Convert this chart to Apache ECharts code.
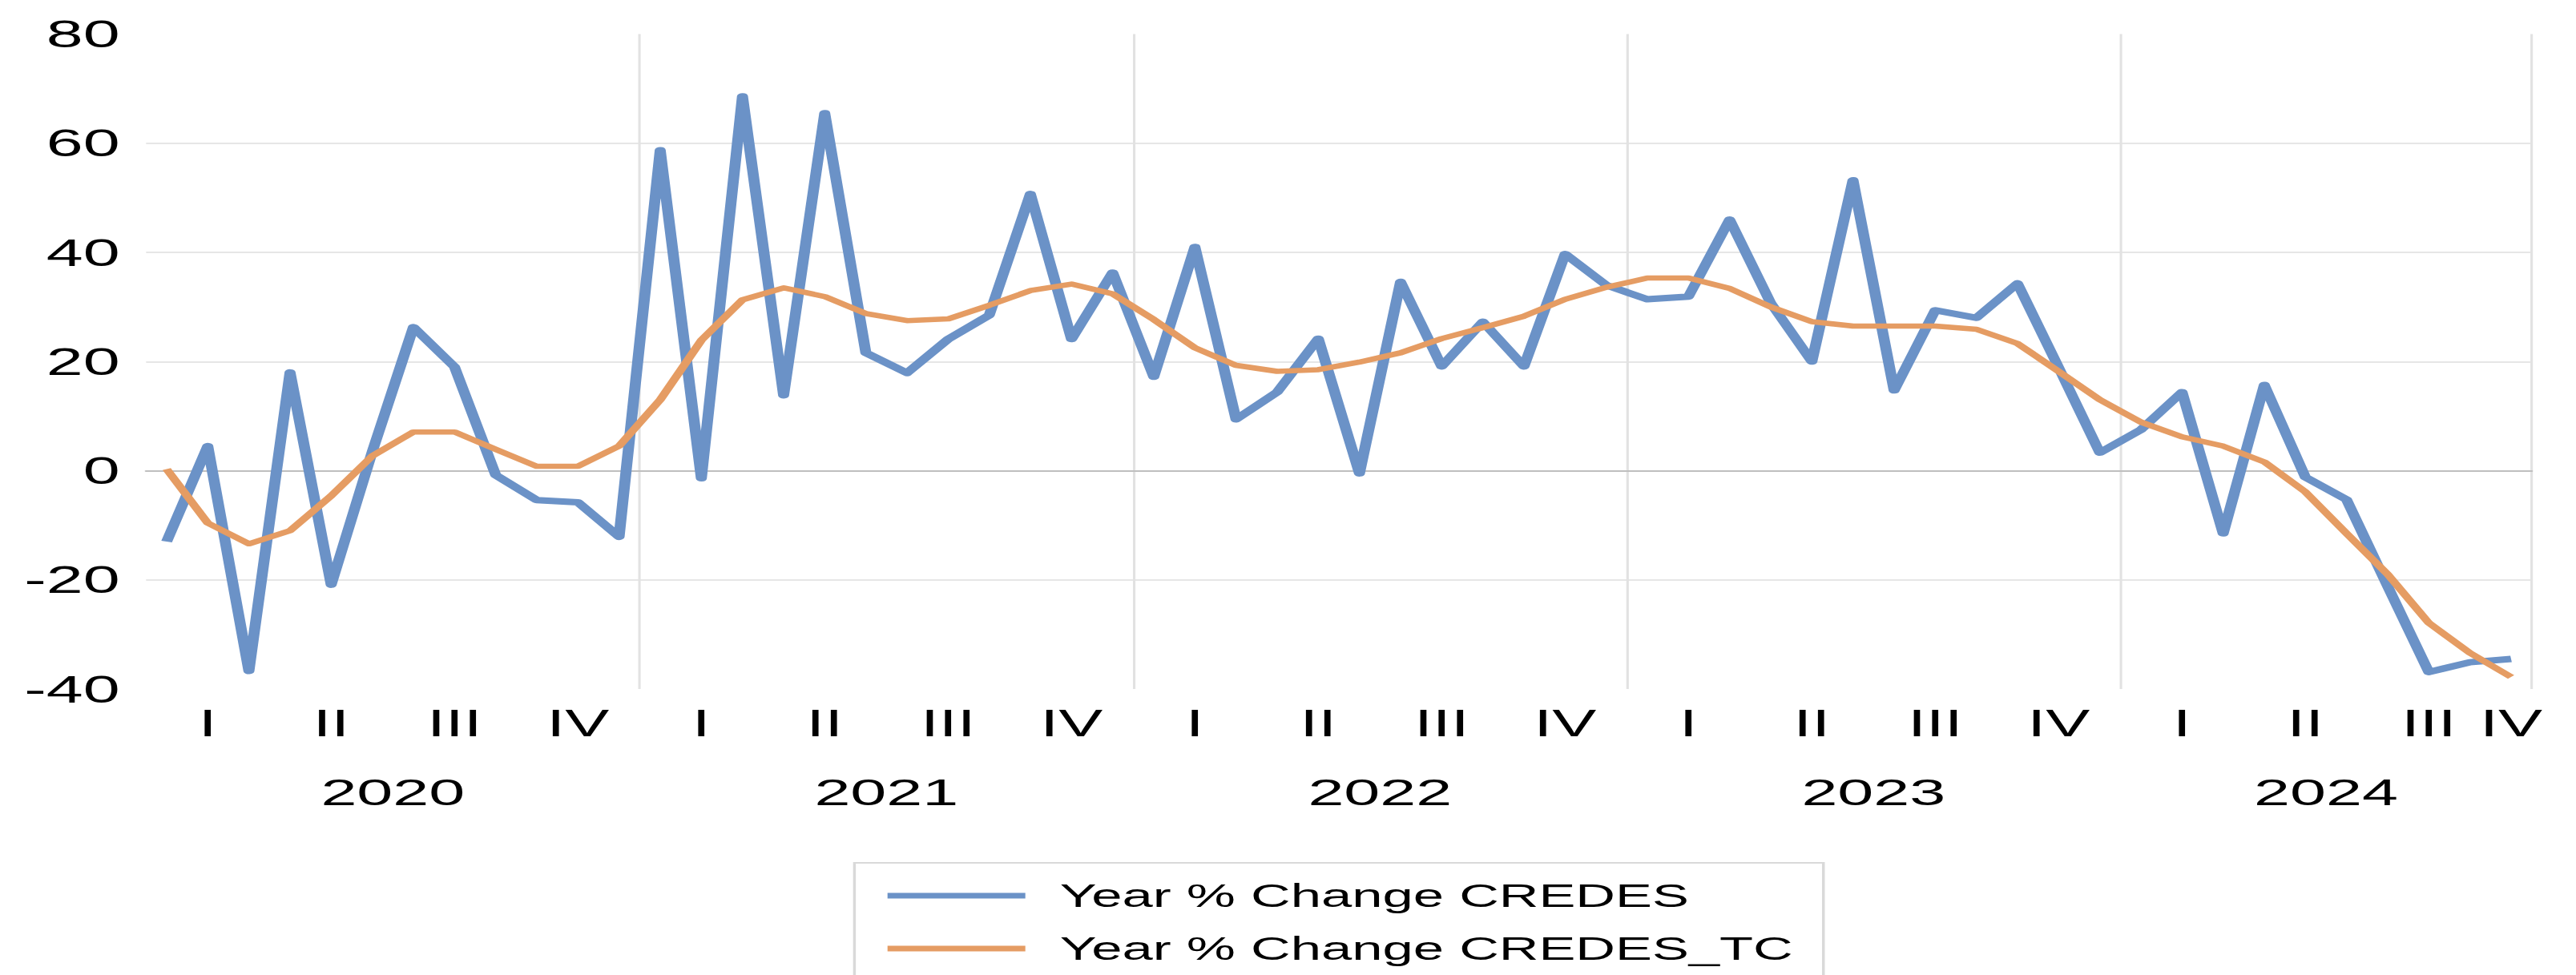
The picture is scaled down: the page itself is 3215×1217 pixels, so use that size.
<!DOCTYPE html>
<html>
<head>
<meta charset="utf-8">
<script src="https://cdn.jsdelivr.net/npm/echarts@6/dist/echarts.min.js"></script>
<style>
  html, body { margin: 0; padding: 0; background: #fff; overflow: hidden; }
  /* the original picture is stretched sideways, so draw narrow and widen it */
  #chart { width: 1869px; height: 1217px; transform: scaleX(1.72); transform-origin: 0 0; }
</style>
</head>
<body>
<div id="chart"></div>
<script>
const years = ['2020', '2021', '2022', '2023', '2024'];
const monthsPerYear = [12, 12, 12, 12, 10];
const quarterNames = ['I', 'II', 'III', 'IV'];

const credes = [
  -13.0, 4.5, -36.7, 18.0, -20.9, 3.5, 26.3, 19.0, -0.8, -5.4, -5.8, -12.1,
  58.7, -1.4, 68.6, 13.8, 65.5, 21.6, 17.9, 24.1, 28.5, 50.7, 24.1, 36.3,
  17.2, 41.0, 9.4, 14.4, 24.2, -0.5, 34.6, 19.1, 27.3, 19.1, 39.7, 34.0,
  31.4, 31.9, 46.0, 30.7, 20.0, 53.2, 14.7, 29.4, 28.0, 34.3, 18.9, 3.3,
  7.5, 14.4, -11.5, 15.7, -1.2, -5.3, -21.2, -36.9, -35.1, -34.5
];
const credesTC = [
  0.3, -9.6, -13.4, -11.0, -4.6, 2.7, 7.1, 7.1, 3.9, 0.8, 0.8, 4.5,
  13.0, 23.9, 31.3, 33.5, 31.9, 28.8, 27.5, 27.8, 30.3, 33.0, 34.2, 32.4,
  27.7, 22.5, 19.3, 18.2, 18.5, 19.9, 21.6, 24.2, 26.2, 28.3, 31.4, 33.6,
  35.3, 35.3, 33.4, 30.0, 27.3, 26.5, 26.5, 26.5, 25.9, 23.3, 18.2, 13.0,
  8.9, 6.2, 4.5, 1.6, -3.9, -11.5, -19.0, -27.9, -33.4, -37.8
];

// one category per month, plus quarter label per category and year centres
const months = [];
const quarterLabel = [];
const yearCentre = {};
const yearStarts = [];
let start = 0;
years.forEach((y, yi) => {
  const n = monthsPerYear[yi];
  yearStarts.push(start);
  yearCentre[start + n / 2] = y;
  for (let m = 0; m < n; m++) {
    const q = Math.floor(m / 3);
    const len = Math.min(3, n - q * 3);
    months.push(y + '-' + (m + 1));
    quarterLabel.push(m === q * 3 + Math.floor((len - 1) / 2) ? quarterNames[q] : '');
  }
  start += n;
});

const font = 'Liberation Sans, Arial, sans-serif';
const chart = echarts.init(document.getElementById('chart'), null, { renderer: 'svg' });

chart.setOption({
  animation: false,
  backgroundColor: '#fff',
  grid: { left: 106, right: 32, top: 42.5, bottom: 357, containLabel: false },
  xAxis: [
    {
      // zero line and year separators
      type: 'category', data: months, boundaryGap: true,
      axisLine: { show: true, onZero: true, lineStyle: { color: '#bfbfbf', width: 2 } },
      axisTick: { show: false }, axisLabel: { show: false },
      splitLine: {
        show: true,
        interval: (i) => i > 0 && yearStarts.includes(i),
        lineStyle: { color: '#e2e2e2', width: 1.8 }
      }
    },
    {
      type: 'category', data: months, boundaryGap: true, position: 'bottom',
      axisLine: { show: false, onZero: false }, axisTick: { show: false },
      axisLabel: {
        interval: 0, margin: 18, fontSize: 48, color: '#000', fontFamily: font,
        formatter: (v, i) => quarterLabel[i]
      }
    },
    {
      type: 'value', min: 0, max: months.length, interval: 1, position: 'bottom', offset: 87,
      axisLine: { show: false, onZero: false }, axisTick: { show: false }, splitLine: { show: false },
      axisLabel: {
        margin: 18, fontSize: 47, color: '#000', fontFamily: font,
        formatter: (v) => yearCentre[v] || ''
      }
    }
  ],
  yAxis: {
    type: 'value', min: -40, max: 80, interval: 20,
    axisLine: { show: false }, axisTick: { show: false },
    axisLabel: { fontSize: 48, color: '#000', fontFamily: font, margin: 19 },
    splitLine: { show: true, showMinLine: false, showMaxLine: false, lineStyle: { color: '#e6e6e6', width: 2 } }
  },
  legend: {
    orient: 'vertical', left: 620, top: 1077, height: 400,
    padding: [21, 22, 40, 24], itemGap: 26,
    backgroundColor: '#fff', borderColor: '#d9d9d9', borderWidth: 2,
    icon: 'rect', itemWidth: 100, itemHeight: 7,
    textStyle: { fontSize: 40, lineHeight: 40, color: '#000', fontFamily: font, padding: [0, 0, 0, 20] },
    data: ['Year % Change CREDES', 'Year % Change CREDES_TC']
  },
  series: [
    {
      name: 'Year % Change CREDES', type: 'line', xAxisIndex: 0, data: credes,
      symbol: 'none', color: '#6b92c7', lineStyle: { width: 8, color: '#6b92c7', join: 'round' }
    },
    {
      name: 'Year % Change CREDES_TC', type: 'line', xAxisIndex: 0, data: credesTC,
      symbol: 'none', color: '#e59c63', lineStyle: { width: 6.5, color: '#e59c63', join: 'round' }
    }
  ]
});
</script>
</body>
</html>
